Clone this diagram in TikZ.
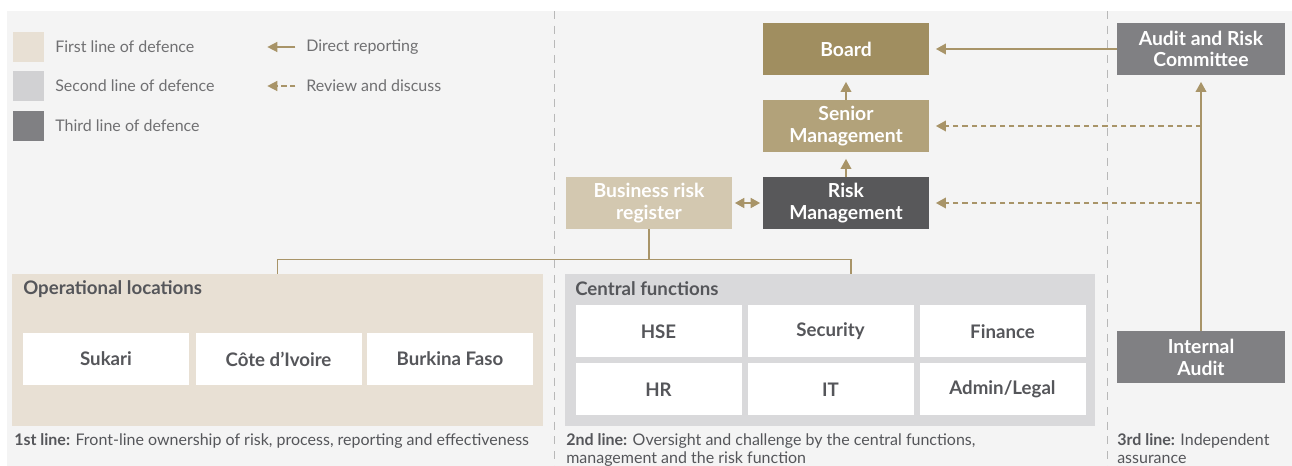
\documentclass[tikz,border=0pt]{standalone}
\usepackage{fontspec}
\setmainfont{Lato}
\usetikzlibrary{arrows.meta,positioning}

\definecolor{bgGray}{HTML}{F4F4F4}
\definecolor{firstLine}{HTML}{E8E0D4}
\definecolor{secondLine}{HTML}{D9D9DB}
\definecolor{legendGray}{HTML}{D1D1D3}
\definecolor{thirdLine}{HTML}{808083}
\definecolor{gold}{HTML}{A08E60}
\definecolor{goldLight}{HTML}{B2A27A}
\definecolor{goldPale}{HTML}{D3C8B0}
\definecolor{riskGray}{HTML}{58585A}
\definecolor{txtGray}{HTML}{55565A}
\definecolor{lightTxt}{HTML}{707072}
\definecolor{arrowGold}{HTML}{A89468}
\definecolor{divGray}{HTML}{B8B8B8}

\tikzset{
  box/.style={minimum width=124.5pt, minimum height=39pt, inner sep=0pt,
    align=center, text=white, font=\bfseries\fontsize{14.5}{16}\selectfont},
  cell/.style={fill=white, minimum width=124.5pt, minimum height=39pt,
    inner sep=0pt, text=txtGray, font=\bfseries\fontsize{14}{16}\selectfont},
  panel/.style={minimum width=398pt, minimum height=114pt, inner sep=0pt},
  paneltitle/.style={anchor=west, inner sep=0pt, text=txtGray,
    font=\bfseries\fontsize{14}{16}\selectfont},
  legend/.style={anchor=west, inner sep=0pt, text=lightTxt,
    font=\fontsize{12}{14}\selectfont},
  note/.style={anchor=north west, inner sep=0pt, align=left, text=txtGray,
    font=\fontsize{12}{13.5}\selectfont},
  link/.style={draw=arrowGold, line width=1.1pt},
  report/.style={link, shorten >=5pt, -{Triangle[length=7.5pt,width=8pt]}},
  review/.style={report, dash pattern=on 4pt off 3pt},
  divider/.style={draw=divGray, line width=0.7pt, dash pattern=on 6pt off 5pt}
}

\begin{document}
\begin{tikzpicture}[x=0.75pt,y=-0.75pt]
  \useasboundingbox (0,0) rectangle (1292,466);
  \clip (0,0) rectangle (1292,466);

  % Background and the dividers between the three lines
  \fill[bgGray] (7,11) rectangle (1292,466);
  \draw[divider] (554,11) -- (554,466);
  \draw[divider] (1107,11) -- (1107,466);

  % Legend
  \foreach \y/\c/\t [count=\i] in {47/firstLine/First line of defence,
      86/legendGray/Second line of defence, 126/thirdLine/Third line of defence} {
    \node[fill=\c, minimum size=23pt, inner sep=0pt] (swatch\i) at (28.5,\y) {};
    \node[legend] (key\i) at (55,\y) {\t};
  }
  \node[legend] (direct) at (306,47) {Direct reporting};
  \node[legend] (discuss) at (306,86) {Review and discuss};
  \coordinate[left=8pt of direct.west] (directEnd);
  \coordinate[left=8pt of discuss.west] (discussEnd);
  \draw[link, -{Triangle[length=7.5pt,width=7.5pt]}] (directEnd) -- ++(-28,0);
  \draw[link, dash pattern=on 4pt off 2.5pt, -{Triangle[length=7.5pt,width=7.5pt]}]
    (discussEnd) -- ++(-28,0);

  % Governance boxes
  \node[box, fill=gold] (board) at (846,49) {Board};
  \node[box, fill=goldLight] (senior) at (846,126) {Senior\\Management};
  \node[box, fill=riskGray] (riskmgmt) at (846,203) {Risk\\Management};
  \node[box, fill=goldPale] (register) at (649,203) {Business risk\\register};
  \node[box, fill=thirdLine, minimum width=126pt] (committee) at (1201,49) {Audit and Risk\\Committee};
  \node[box, fill=thirdLine, minimum width=126pt] (audit) at (1201,357.5) {Internal\\Audit};

  % Operational locations
  \node[panel, fill=firstLine] (locations) at (277.5,350) {};
  \node[paneltitle] (locTitle) at (23,289) {Operational locations};
  \foreach \x/\t [count=\i] in {106/Sukari, 278.5/Côte d’Ivoire, 450/Burkina Faso}
    \node[cell] (loc\i) at (\x,359) {\t};

  % Central functions
  \node[panel, fill=secondLine] (central) at (830,350) {};
  \node[paneltitle] (cenTitle) at (575,289) {Central functions};
  \foreach \x/\t [count=\i] in {658.5/HSE, 830.5/Security, 1002.5/Finance}
    \node[cell] (fn\i) at (\x,331.5) {\t};
  \foreach \x/\t [count=\i] in {658.5/HR, 830.5/IT, 1002.5/{Admin/Legal}}
    \node[cell] (fnb\i) at (\x,389.5) {\t};

  % Register feeds both groups
  \draw[link] (register.south) -- ++(0,30) coordinate (fork);
  \draw[link] (locations.north) |- (fork) -| ([xshift=15.75pt]central.north);

  % Reporting lines
  \draw[report] (riskmgmt.north) -- (senior.south);
  \draw[report] (senior.north) -- (board.south);
  \draw[report] (committee.west) -- (board.east);
  \draw[report] (audit.north) -- (committee.south);
  \draw[review] (audit.north |- senior) -- (senior.east);
  \draw[review] (audit.north |- riskmgmt) -- (riskmgmt.east);
  \draw[link, shorten <=2pt, shorten >=2pt,
    {Triangle[length=7pt,width=7.5pt]}-{Triangle[length=7pt,width=7.5pt]}]
    (register.east) -- (riskmgmt.west);

  % Notes under each line
  \node[note] (note1) at (14,433) {\textbf{1st line:} Front-line ownership of risk, process, reporting and effectiveness};
  \node[note] (note2) at (566,433) {\textbf{2nd line:} Oversight and challenge by the central functions,\\management and the risk function};
  \node[note] (note3) at (1117,433) {\textbf{3rd line:} Independent\\assurance};
\end{tikzpicture}
\end{document}
